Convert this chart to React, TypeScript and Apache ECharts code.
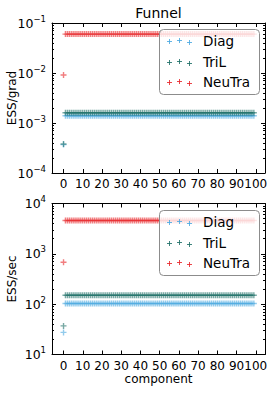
import React, { useEffect, useRef } from "react";
import * as echarts from "echarts";

// ---- data ----
const gradDiag = [
  0.00037, 0.0014, 0.0014, 0.0014, 0.0014, 0.0014, 0.0014, 0.0014, 0.0014, 0.0014,
  0.0014, 0.0014, 0.0014, 0.0014, 0.0014, 0.0014, 0.0014, 0.0014, 0.0014, 0.0014,
  0.0014, 0.0014, 0.0014, 0.0014, 0.0014, 0.0014, 0.0014, 0.0014, 0.0014, 0.0014,
  0.0014, 0.0014, 0.0014, 0.0014, 0.0014, 0.0014, 0.0014, 0.0014, 0.0014, 0.0014,
  0.0014, 0.0014, 0.0014, 0.0014, 0.0014, 0.0014, 0.0014, 0.0014, 0.0014, 0.0014,
  0.0014, 0.0014, 0.0014, 0.0014, 0.0014, 0.0014, 0.0014, 0.0014, 0.0014, 0.0014,
  0.0014, 0.0014, 0.0014, 0.0014, 0.0014, 0.0014, 0.0014, 0.0014, 0.0014, 0.0014,
  0.0014, 0.0014, 0.0014, 0.0014, 0.0014, 0.0014, 0.0014, 0.0014, 0.0014, 0.0014,
  0.0014, 0.0014, 0.0014, 0.0014, 0.0014, 0.0014, 0.0014, 0.0014, 0.0014, 0.0014,
  0.0014, 0.0014, 0.0014, 0.0014, 0.0014, 0.0014, 0.0014, 0.0014, 0.0014, 0.0014,
];
const gradTriL = [
  0.00038, 0.0016, 0.0016, 0.0016, 0.0016, 0.0016, 0.0016, 0.0016, 0.0016, 0.0016,
  0.0016, 0.0016, 0.0016, 0.0016, 0.0016, 0.0016, 0.0016, 0.0016, 0.0016, 0.0016,
  0.0016, 0.0016, 0.0016, 0.0016, 0.0016, 0.0016, 0.0016, 0.0016, 0.0016, 0.0016,
  0.0016, 0.0016, 0.0016, 0.0016, 0.0016, 0.0016, 0.0016, 0.0016, 0.0016, 0.0016,
  0.0016, 0.0016, 0.0016, 0.0016, 0.0016, 0.0016, 0.0016, 0.0016, 0.0016, 0.0016,
  0.0016, 0.0016, 0.0016, 0.0016, 0.0016, 0.0016, 0.0016, 0.0016, 0.0016, 0.0016,
  0.0016, 0.0016, 0.0016, 0.0016, 0.0016, 0.0016, 0.0016, 0.0016, 0.0016, 0.0016,
  0.0016, 0.0016, 0.0016, 0.0016, 0.0016, 0.0016, 0.0016, 0.0016, 0.0016, 0.0016,
  0.0016, 0.0016, 0.0016, 0.0016, 0.0016, 0.0016, 0.0016, 0.0016, 0.0016, 0.0016,
  0.0016, 0.0016, 0.0016, 0.0016, 0.0016, 0.0016, 0.0016, 0.0016, 0.0016, 0.0016,
];
const gradNeuTra = [
  0.0091, 0.06, 0.06, 0.06, 0.06, 0.06, 0.06, 0.06, 0.06, 0.06,
  0.06, 0.06, 0.06, 0.06, 0.06, 0.06, 0.06, 0.06, 0.06, 0.06,
  0.06, 0.06, 0.06, 0.06, 0.06, 0.06, 0.06, 0.06, 0.06, 0.06,
  0.06, 0.06, 0.06, 0.06, 0.06, 0.06, 0.06, 0.06, 0.06, 0.06,
  0.06, 0.06, 0.06, 0.06, 0.06, 0.06, 0.06, 0.06, 0.06, 0.06,
  0.06, 0.06, 0.06, 0.06, 0.06, 0.06, 0.06, 0.06, 0.06, 0.06,
  0.06, 0.06, 0.06, 0.06, 0.06, 0.06, 0.06, 0.06, 0.06, 0.06,
  0.06, 0.06, 0.06, 0.06, 0.06, 0.06, 0.06, 0.06, 0.06, 0.06,
  0.06, 0.06, 0.06, 0.06, 0.06, 0.06, 0.06, 0.06, 0.06, 0.06,
  0.06, 0.06, 0.06, 0.06, 0.06, 0.06, 0.06, 0.06, 0.06, 0.06,
];
const secDiag = [
  27.5, 103, 103, 103, 103, 103, 103, 103, 103, 103,
  103, 103, 103, 103, 103, 103, 103, 103, 103, 103,
  103, 103, 103, 103, 103, 103, 103, 103, 103, 103,
  103, 103, 103, 103, 103, 103, 103, 103, 103, 103,
  103, 103, 103, 103, 103, 103, 103, 103, 103, 103,
  103, 103, 103, 103, 103, 103, 103, 103, 103, 103,
  103, 103, 103, 103, 103, 103, 103, 103, 103, 103,
  103, 103, 103, 103, 103, 103, 103, 103, 103, 103,
  103, 103, 103, 103, 103, 103, 103, 103, 103, 103,
  103, 103, 103, 103, 103, 103, 103, 103, 103, 103,
];
const secTriL = [
  37, 150, 150, 150, 150, 150, 150, 150, 150, 150,
  150, 150, 150, 150, 150, 150, 150, 150, 150, 150,
  150, 150, 150, 150, 150, 150, 150, 150, 150, 150,
  150, 150, 150, 150, 150, 150, 150, 150, 150, 150,
  150, 150, 150, 150, 150, 150, 150, 150, 150, 150,
  150, 150, 150, 150, 150, 150, 150, 150, 150, 150,
  150, 150, 150, 150, 150, 150, 150, 150, 150, 150,
  150, 150, 150, 150, 150, 150, 150, 150, 150, 150,
  150, 150, 150, 150, 150, 150, 150, 150, 150, 150,
  150, 150, 150, 150, 150, 150, 150, 150, 150, 150,
];
const secNeuTra = [
  680, 4600, 4600, 4600, 4600, 4600, 4600, 4600, 4600, 4600,
  4600, 4600, 4600, 4600, 4600, 4600, 4600, 4600, 4600, 4600,
  4600, 4600, 4600, 4600, 4600, 4600, 4600, 4600, 4600, 4600,
  4600, 4600, 4600, 4600, 4600, 4600, 4600, 4600, 4600, 4600,
  4600, 4600, 4600, 4600, 4600, 4600, 4600, 4600, 4600, 4600,
  4600, 4600, 4600, 4600, 4600, 4600, 4600, 4600, 4600, 4600,
  4600, 4600, 4600, 4600, 4600, 4600, 4600, 4600, 4600, 4600,
  4600, 4600, 4600, 4600, 4600, 4600, 4600, 4600, 4600, 4600,
  4600, 4600, 4600, 4600, 4600, 4600, 4600, 4600, 4600, 4600,
  4600, 4600, 4600, 4600, 4600, 4600, 4600, 4600, 4600, 4600,
];

const seriesNames = ["Diag", "TriL", "NeuTra"];
const seriesColors = ["#4aa8e0", "#1d6e66", "#e8262a"];
const xTicks = [0, 10, 20, 30, 40, 50, 60, 70, 80, 90, 100];
const gradTicks = [0.0001, 0.001, 0.01, 0.1];
const secTicks = [10, 100, 1000, 10000];
const title = "Funnel";
const yNames = ["ESS/grad", "ESS/sec"];
const xName = "component";

const FONT = "DejaVu Sans";
const PLUS = "path://M2.3,0H3.7V2.3H6V3.7H3.7V6H2.3V3.7H0V2.3H2.3Z";

function minorOf(majors: number[]) {
  const out: number[] = [];
  for (let i = 0; i < majors.length - 1; i++) {
    for (let k = 2; k <= 9; k++) out.push(majors[i] * k);
  }
  return out;
}

const GRIDS = [
  { left: 52, right: 9, top: 23, height: 150 },
  { left: 52, right: 9, top: 203.5, height: 151 },
];

export default function App() {
  const ref = useRef<HTMLDivElement>(null);
  useEffect(() => {
    if (!ref.current) return;
    const chart = echarts.init(ref.current, null, { renderer: "svg" });
    const xAxes: any[] = [];
    const yAxes: any[] = [];
    const series: any[] = [];
    const graphic: any[] = [];
    const blackLine = { show: true, onZero: false, lineStyle: { color: "#000", width: 1 } };
    const plots = [
      { vals: [gradDiag, gradTriL, gradNeuTra], ticks: gradTicks },
      { vals: [secDiag, secTriL, secNeuTra], ticks: secTicks },
    ];
    plots.forEach((p, gi) => {
      const xi = xAxes.length;
      xAxes.push({
        gridIndex: gi, type: "value", min: -6, max: 104.8, position: "bottom",
        axisLine: blackLine,
        axisTick: { show: true, inside: true, length: 4, customValues: xTicks, lineStyle: { color: "#000" } },
        axisLabel: { show: true, customValues: xTicks, fontSize: 12, color: "#000", fontFamily: FONT, margin: 5 },
        splitLine: { show: false },
      });
      xAxes.push({
        gridIndex: gi, type: "value", min: -6, max: 104.8, position: "top",
        axisLine: blackLine,
        axisTick: { show: true, inside: true, length: 4, customValues: xTicks, lineStyle: { color: "#000" } },
        axisLabel: { show: false },
        splitLine: { show: false },
      });
      const yi = yAxes.length;
      const lo = p.ticks[0];
      const hi = p.ticks[p.ticks.length - 1];
      const minors = minorOf(p.ticks);
      const base = { gridIndex: gi, type: "log", logBase: 10, min: lo, max: hi, splitLine: { show: false } };
      yAxes.push({
        ...base, position: "left",
        axisLine: blackLine,
        axisTick: { show: true, inside: true, length: 4, customValues: p.ticks, lineStyle: { color: "#000" } },
        axisLabel: {
          show: true, customValues: p.ticks, margin: 6, color: "#000",
          formatter: (v: number) => {
            const e = Math.round(Math.log10(v));
            return `{b|10}{s|${e < 0 ? "\u2212" + -e : e}}`;
          },
          rich: {
            b: { fontSize: 12.5, fontFamily: FONT, color: "#000" },
            s: { fontSize: 8.5, fontFamily: FONT, color: "#000", padding: [0, 0, 9, 0] },
          },
        },
      });
      yAxes.push({
        ...base, position: "right",
        axisLine: blackLine,
        axisTick: { show: true, inside: true, length: 4, customValues: p.ticks, lineStyle: { color: "#000" } },
        axisLabel: { show: false },
      });
      yAxes.push({
        ...base, position: "left",
        axisLine: { show: false, onZero: false },
        axisTick: { show: true, inside: true, length: 2, customValues: minors, lineStyle: { color: "#000" } },
        axisLabel: { show: false },
      });
      yAxes.push({
        ...base, position: "right",
        axisLine: { show: false, onZero: false },
        axisTick: { show: true, inside: true, length: 2, customValues: minors, lineStyle: { color: "#000" } },
        axisLabel: { show: false },
      });
      p.vals.forEach((vals, si) => {
        series.push({
          type: "scatter", name: seriesNames[si] + gi, xAxisIndex: xi, yAxisIndex: yi,
          symbol: PLUS, symbolSize: 6,
          itemStyle: { color: seriesColors[si], opacity: 0.6 },
          data: vals.map((v, i) => [i, v]),
          z: 2 + si,
        });
      });
      // legend
      const g = GRIDS[gi];
      const bx = 159, by = Math.round(g.top + 6);
      graphic.push({
        type: "rect", z: 100,
        shape: { x: bx + 0.5, y: by + 0.5, width: 100, height: 65, r: 4 },
        style: { fill: "rgba(255,255,255,0.8)", stroke: "#8c8c8c", lineWidth: 1 },
      });
      const offs = [0, -1, 1];
      seriesNames.forEach((nm, si) => {
        const cy = Math.round(by + 12 + si * 20.5);
        [169, 179, 189].forEach((cx, k) => {
          const y = cy + offs[k];
          graphic.push({
            type: "rect", z: 102, shape: { x: cx - 2, y: y, width: 5, height: 1 },
            style: { fill: seriesColors[si], opacity: 0.85 },
          });
          graphic.push({
            type: "rect", z: 102, shape: { x: cx, y: y - 2, width: 1, height: 5 },
            style: { fill: seriesColors[si], opacity: 0.85 },
          });
        });
        graphic.push({
          type: "text", z: 102, x: 203, y: cy,
          style: { text: nm, fontSize: 13.5, fontFamily: FONT, fill: "#000", textVerticalAlign: "middle", textAlign: "left" },
        });
      });
      graphic.push({
        type: "text", z: 101, x: 12, y: g.top + g.height / 2, rotation: Math.PI / 2,
        style: { text: yNames[gi], fontSize: 12, fontFamily: FONT, fill: "#000", textAlign: "center", textVerticalAlign: "middle" },
      });
    });
    graphic.push({
      type: "text", z: 101, x: 158.5, y: 13,
      style: { text: title, fontSize: 14, fontFamily: FONT, fill: "#000", textAlign: "center", textVerticalAlign: "middle" },
    });
    graphic.push({
      type: "text", z: 101, x: 158.5, y: 379,
      style: { text: xName, fontSize: 12, fontFamily: FONT, fill: "#000", textAlign: "center", textVerticalAlign: "middle" },
    });

    chart.setOption({
      animation: false,
      backgroundColor: "#fff",
      grid: GRIDS.map((g) => ({ ...g, containLabel: false })),
      xAxis: xAxes,
      yAxis: yAxes,
      series,
      graphic,
    });
    return () => chart.dispose();
  }, []);
  return <div ref={ref} style={{ position: "fixed", left: 0, top: 0, width: 274, height: 393 }} />;
}
